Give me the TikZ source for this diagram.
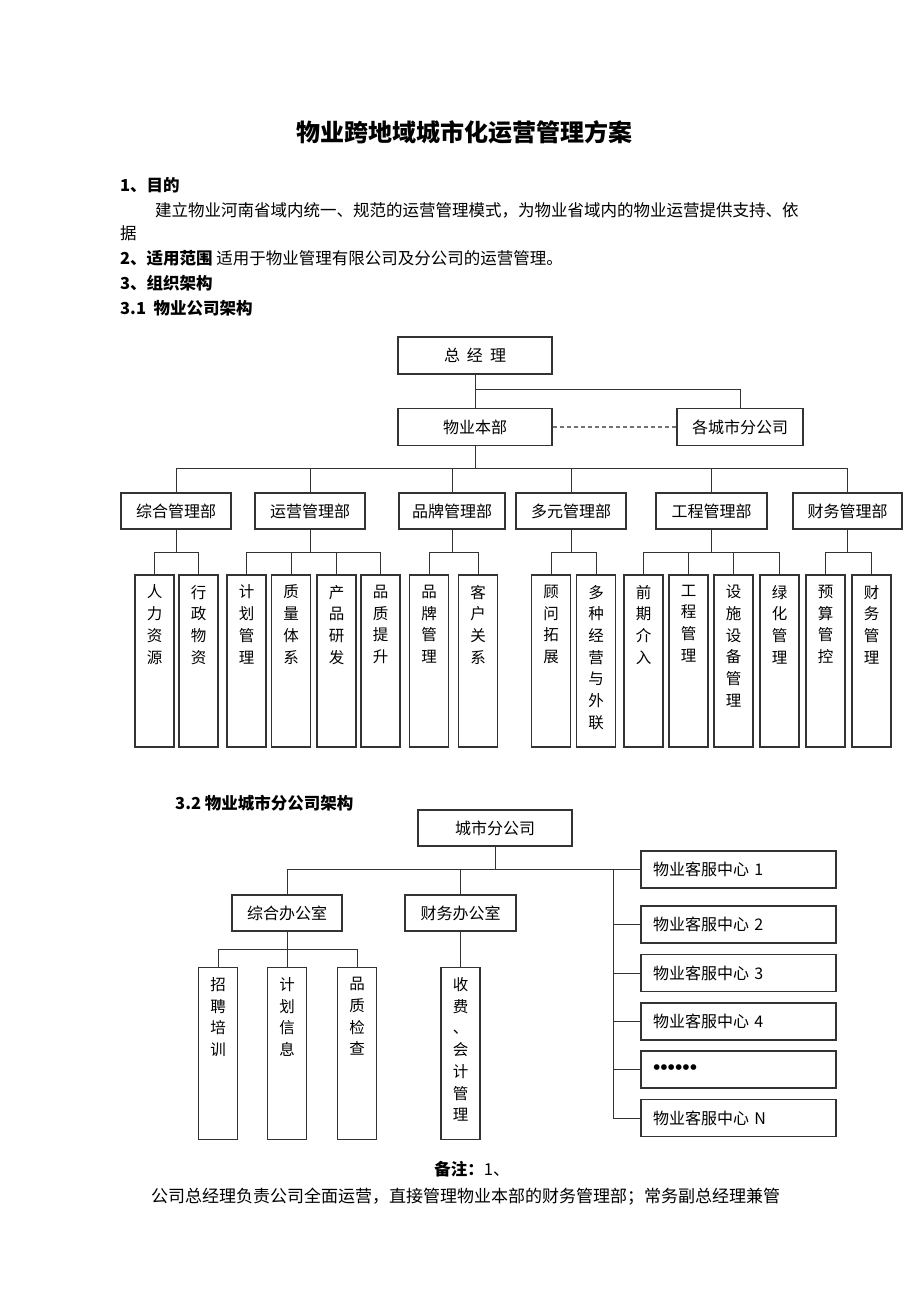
\documentclass[tikz,border=0pt]{standalone}
\usepackage{fontspec}
\setmainfont{Noto Sans CJK SC}
\newfontfamily\dotfont{Liberation Serif}
\usepackage{tikz}

\newcommand{\colchars}[1]{\parbox[c][172pt][t]{39pt}{\centering\fontsize{15.5}{21.7}\selectfont\vspace*{10pt}#1}}

\begin{document}
\begin{tikzpicture}[x=1pt, y=-1pt,
    box/.style={draw=black!80, line width=1.1pt, minimum height=36pt, inner sep=0pt, font=\fontsize{16}{18}\selectfont},
    colbox/.style={draw=black!80, line width=1.1pt, inner sep=0pt},
    kfbox/.style={box, minimum height=37pt, text width=171pt, inner xsep=12pt, align=left},
    link/.style={draw=black!80, line width=1pt},
    txt/.style={inner sep=0pt, anchor=west, font=\fontsize{16.5}{18}\selectfont}]

    \useasboundingbox (0,0) rectangle (920,1302);

    % page text
    \node[inner sep=0pt, font=\fontsize{24}{26}\selectfont\bfseries] (title) at (464.5,132) {物业跨地域城市化运营管理方案};
    \node[txt, font=\fontsize{16.5}{18}\selectfont\bfseries] (h1) at (120,185) {1、目的};
    \node[txt] (p1) at (155,210) {建立物业河南省域内统一、规范的运营管理模式，为物业省域内的物业运营提供支持、依};
    \node[txt] (p2) at (120,233) {据};
    \node[txt] (h2) at (120,258) {\bfseries 2、适用范围\mdseries\ 适用于物业管理有限公司及分公司的运营管理。};
    \node[txt, font=\fontsize{16.5}{18}\selectfont\bfseries] (h3) at (120,283) {3、组织架构};
    \node[txt, font=\fontsize{16.5}{18}\selectfont\bfseries] (h31) at (120,308) {3.1\ \ 物业公司架构};

    % 3.1 chart
    \node[box, minimum width=154pt, minimum height=37pt] (zjl) at (475,355.5) {总\hspace{7pt}经\hspace{7pt}理};
    \node[box, minimum width=154pt, minimum height=37pt] (bu) at (475,427) {物业本部};
    \node[box, minimum width=126pt, minimum height=37pt] (gs) at (740,427) {各城市分公司};
    \coordinate (br) at (475,389);

    \draw[link] (zjl.south) -- (bu.north);
    \draw[link] (br) -| (gs.north);
    \draw[draw=black!55, line width=1.2pt, dash pattern=on 4pt off 3pt] (bu.east) -- (gs.west);

    \node[box, minimum width=110pt] (zh) at (176,511) {综合管理部};
    \node[box, minimum width=110pt] (yy) at (310,511) {运营管理部};
    \node[box, minimum width=106pt] (pp) at (452,511) {品牌管理部};
    \node[box, minimum width=110pt] (dy) at (571,511) {多元管理部};
    \node[box, minimum width=111pt] (gc) at (711.5,511) {工程管理部};
    \node[box, minimum width=109pt] (cw) at (847.5,511) {财务管理部};
    \coordinate (bus1) at (475,468);

    \draw[link] (bu.south) -- (bus1);
    \draw[link] (zh.north) -- (zh.north |- bus1) -- (cw.north |- bus1) -- (cw.north);
    \foreach \n in {yy,pp,dy,gc}
        \draw[link] (\n.north) -- (\n.north |- bus1);

    \foreach \n/\x/\t in {rl/154.5/人\\力\\资\\源, xz/198.5/行\\政\\物\\资,
        jh/246.5/计\\划\\管\\理, zl/291/质\\量\\体\\系, cp/336.5/产\\品\\研\\发, pz/380.5/品\\质\\提\\升,
        pg/429/品\\牌\\管\\理, kh/478/客\\户\\关\\系,
        gw/551/顾\\问\\拓\\展, dz/596/多\\种\\经\\营\\与\\外\\联,
        qq/643.5/前\\期\\介\\入, gg/688.5/工\\程\\管\\理, ss/733.5/设\\施\\设\\备\\管\\理, lh/779.5/绿\\化\\管\\理,
        ys/825.5/预\\算\\管\\控, cg/871.5/财\\务\\管\\理}
        \node[colbox] (\n) at (\x,661) {\colchars{\t}};

    \coordinate (sub1) at (0,552);
    \foreach \p/\a/\b/\m in {zh/rl/xz/{}, yy/jh/pz/{zl,cp}, pp/pg/kh/{}, dy/gw/dz/{}, gc/qq/lh/{gg,ss}, cw/ys/cg/{}} {
        \draw[link] (\p.south) -- (\p.south |- sub1);
        \draw[link] (\a.north) -- (\a.north |- sub1) -- (\b.north |- sub1) -- (\b.north);
        \foreach \c in \m
            \draw[link] (\c.north) -- (\c.north |- sub1);
    }

    % 3.2 chart
    \node[txt, font=\fontsize{16.5}{18}\selectfont\bfseries] (h32) at (175,803) {3.2 物业城市分公司架构};
    \node[box, minimum width=154pt] (cs) at (495,828) {城市分公司};
    \node[box, minimum width=110pt] (zb) at (287,913) {综合办公室};
    \node[box, minimum width=111pt] (cb) at (460.5,913) {财务办公室};

    \node[kfbox] (kf1) at (738.5,869.5) {物业客服中心 1};
    \node[kfbox] (kf2) at (738.5,924.5) {物业客服中心 2};
    \node[kfbox] (kf3) at (738.5,973) {物业客服中心 3};
    \node[kfbox] (kf4) at (738.5,1021.5) {物业客服中心 4};
    \node[kfbox] (kf5) at (738.5,1069.5) {\dotfont\fontsize{21}{21}\selectfont\bfseries ••••••};
    \node[kfbox] (kfn) at (738.5,1118) {物业客服中心 N};
    \coordinate (tr) at (613,869.5);

    \draw[link] (zb.north) |- (kf1.west);
    \draw[link] (cs.south) -- (cs.south |- kf1.west);
    \draw[link] (cb.north) -- (cb.north |- kf1.west);
    \draw[link] (tr) |- (kfn.west);
    \foreach \n in {kf2,kf3,kf4,kf5}
        \draw[link] (\n.west) -- (tr |- \n.west);

    \foreach \n/\x/\t in {zp/218/招\\聘\\培\\训, jx/287/计\\划\\信\\息, pj/357/品\\质\\检\\查, sf/460.5/收\\费\\、\\会\\计\\管\\理}
        \node[colbox] (\n) at (\x,1053.5) {\colchars{\t}};

    \coordinate (sub2) at (0,949);
    \draw[link] (zb.south) -- (zb.south |- sub2);
    \draw[link] (zp.north) -- (zp.north |- sub2) -- (pj.north |- sub2) -- (pj.north);
    \draw[link] (jx.north) -- (jx.north |- sub2);
    \draw[link] (cb.south) -- (sf.north);

    % note
    \node[inner sep=0pt, font=\fontsize{16.5}{18}\selectfont] (note) at (472,1169) {\bfseries 备注：\mdseries 1、};
    \node[inner sep=0pt, font=\fontsize{17}{18}\selectfont] (note1) at (465.5,1197) {公司总经理负责公司全面运营，直接管理物业本部的财务管理部；常务副总经理兼管};
\end{tikzpicture}
\end{document}
